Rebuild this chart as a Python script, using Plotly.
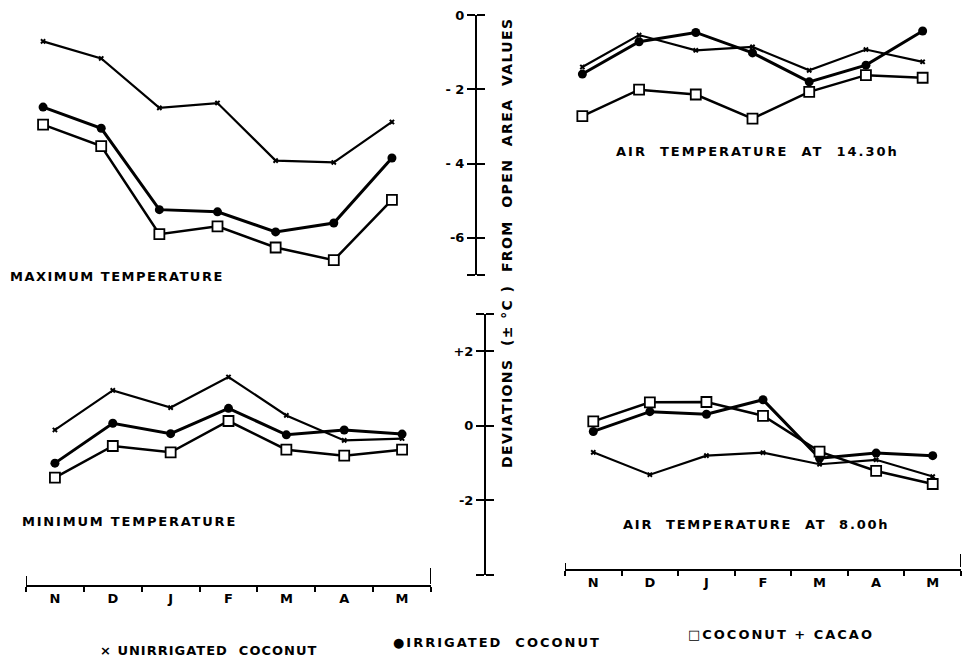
import plotly.graph_objects as go

# ---------------- data ----------------
months = ['N', 'D', 'J', 'F', 'M', 'A', 'M']
xi = list(range(len(months)))

max_unirr = [-0.71, -1.17, -2.50, -2.37, -3.92, -3.97, -2.88]
max_irr = [-2.48, -3.05, -5.24, -5.30, -5.84, -5.60, -3.85]
max_cacao = [-2.95, -3.53, -5.90, -5.69, -6.26, -6.60, -4.98]

a1430_unirr = [-1.40, -0.54, -0.95, -0.86, -1.49, -0.93, -1.26]
a1430_irr = [-1.59, -0.72, -0.47, -1.02, -1.80, -1.35, -0.43]
a1430_cacao = [-2.72, -2.01, -2.14, -2.79, -2.07, -1.62, -1.69]

min_unirr = [-0.11, 0.95, 0.49, 1.31, 0.28, -0.39, -0.34]
min_irr = [-1.00, 0.07, -0.21, 0.47, -0.24, -0.11, -0.22]
min_cacao = [-1.39, -0.54, -0.71, 0.13, -0.64, -0.80, -0.64]

a800_unirr = [-0.71, -1.31, -0.80, -0.72, -1.03, -0.91, -1.36]
a800_irr = [-0.15, 0.38, 0.31, 0.70, -0.87, -0.73, -0.80]
a800_cacao = [0.12, 0.63, 0.64, 0.27, -0.69, -1.21, -1.56]

top_ticks = [0, -2, -4, -6, -7]
top_ticktext = ['0', '- 2', '- 4', '-6', '']
bot_ticks = [3, 2, 0, -2, -4]
bot_ticktext = ['', '+2', '0', '-2', '']

series_names = ['UNIRRIGATED  COCONUT', 'IRRIGATED  COCONUT', 'COCONUT + CACAO']

# ---------------- layout helpers ----------------
W, H = 965, 666
def px(x):
    return x / W
def py(y):
    return 1 - y / H

FONT = 'DejaVu Sans'

def spaced(text, ls=2):
    return '<span style="letter-spacing:%spx">%s</span>' % (ls, text)

styles = [
    dict(mode='lines+markers', line=dict(color='black', width=2.2),
         marker=dict(symbol='x', size=5, color='black')),
    dict(mode='lines+markers', line=dict(color='black', width=3),
         marker=dict(symbol='circle', size=9, color='black')),
    dict(mode='lines+markers', line=dict(color='black', width=2.5),
         marker=dict(symbol='square', size=10, color='white',
                     line=dict(color='black', width=1.8))),
]

fig = go.Figure()

panels = [
    ('x', 'y', [max_unirr, max_irr, max_cacao]),
    ('x2', 'y', [a1430_unirr, a1430_irr, a1430_cacao]),
    ('x3', 'y2', [min_unirr, min_irr, min_cacao]),
    ('x4', 'y2', [a800_unirr, a800_irr, a800_cacao]),
]
for xa, ya, sets in panels:
    for k, vals in enumerate(sets):
        fig.add_trace(go.Scatter(x=xi, y=vals, xaxis=xa, yaxis=ya,
                                 name=series_names[k], showlegend=False,
                                 cliponaxis=False, **styles[k]))

# placeholder traces (no visible point) so that the overlay axes with the
# right-hand half of the cross ticks get drawn
fig.add_trace(go.Scatter(x=[xi[0]], y=[None], xaxis='x', yaxis='y3',
                         mode='markers', showlegend=False, hoverinfo='skip'))
fig.add_trace(go.Scatter(x=[xi[0]], y=[None], xaxis='x3', yaxis='y4',
                         mode='markers', showlegend=False, hoverinfo='skip'))

xr = [-0.5, len(months) - 0.5]
bounds = [i - 0.5 for i in range(len(months) + 1)]

hidden_x = dict(range=xr, visible=False, fixedrange=True, automargin=False)
shown_x = dict(range=xr, showline=True, linecolor='black', linewidth=2,
               showgrid=False, zeroline=False, anchor='free', automargin=False,
               tickmode='array', tickvals=xi, ticktext=months, ticks='',
               ticklen=0,
               tickfont=dict(family=FONT, size=13, color='black', weight='bold'),
               minor=dict(tickmode='array', tickvals=bounds, ticks='outside',
                          ticklen=5, tickwidth=2, tickcolor='black'))

yax_common = dict(showline=True, linecolor='black', linewidth=2, showgrid=False,
                  zeroline=False, ticks='outside', ticklen=8, tickwidth=2,
                  tickcolor='black', anchor='free', side='left', automargin=False,
                  tickfont=dict(family=FONT, size=13, color='black', weight='bold'))
yover_common = dict(anchor='free', side='right', showline=False, showgrid=False,
                    zeroline=False, tickmode='array', showticklabels=False,
                    ticks='outside', ticklen=8, tickwidth=2, tickcolor='black',
                    automargin=False)

top_dom = [py(275), py(15)]
bot_dom = [py(575), py(314)]
top_pos = px(476)
bot_pos = px(485)

fig.update_layout(
    width=W, height=H,
    margin=dict(l=0, r=0, t=0, b=0, autoexpand=False),
    paper_bgcolor='white', plot_bgcolor='white',
    showlegend=False,
    xaxis=dict(domain=[px(14), px(421)], anchor='y', **hidden_x),
    xaxis2=dict(domain=[px(554), px(951)], anchor='y', **hidden_x),
    xaxis3=dict(domain=[px(26), px(431)], position=py(586), **shown_x),
    xaxis4=dict(domain=[px(565), px(961)], position=py(570), **shown_x),
    yaxis=dict(domain=top_dom, range=[-7, 0], position=top_pos,
               tickmode='array', tickvals=top_ticks, ticktext=top_ticktext,
               **yax_common),
    yaxis2=dict(domain=bot_dom, range=[-4, 3], position=bot_pos,
                tickmode='array', tickvals=bot_ticks, ticktext=bot_ticktext,
                **yax_common),
    yaxis3=dict(overlaying='y', range=[-7, 0], position=top_pos,
                tickvals=top_ticks, **yover_common),
    yaxis4=dict(overlaying='y2', range=[-4, 3], position=bot_pos,
                tickvals=bot_ticks, **yover_common),
)

# end caps of the month axes
caps = [('x3', py(586), py(576), py(584), py(568)),
        ('x4', py(572), py(563), py(567), py(554))]
for xa, l0, l1, r0, r1 in caps:
    fig.add_shape(type='line', xref=xa, yref='paper', x0=xr[0], x1=xr[0],
                  y0=l0, y1=l1, line=dict(color='black', width=2))
    fig.add_shape(type='line', xref=xa, yref='paper', x0=xr[1], x1=xr[1],
                  y0=r0, y1=r1, line=dict(color='black', width=2))

def note(text, x, y, size=13, xanchor='left', angle=0, ls=2):
    fig.add_annotation(text=spaced(text, ls), x=x, y=y, xref='paper', yref='paper',
                       xanchor=xanchor, yanchor='middle', showarrow=False,
                       textangle=angle,
                       font=dict(family=FONT, size=size, color='black', weight='bold'))

note('MAXIMUM TEMPERATURE', px(8), py(276), ls=1.5)
note('MINIMUM TEMPERATURE', px(20), py(521), ls=1.8)
note('AIR  TEMPERATURE  AT  14.30h', px(757), py(151), xanchor='center', ls=2)
note('AIR  TEMPERATURE  AT  8.00h', px(756), py(524), xanchor='center', ls=1.8)
note('DEVIATIONS  (± °C )  FROM  OPEN  AREA  VALUES', px(507), py(242),
     xanchor='center', angle=-90, size=14, ls=1.4)

note('× ' + series_names[0], px(98), py(650), ls=1)
note('●' + series_names[1], px(391), py(642), ls=2)
note('□' + series_names[2], px(686), py(634), ls=2)

fig.write_html('out.html',
               config={'displayModeBar': False},
               post_script="document.body.style.margin='0';"
                           "document.body.style.overflow='hidden';")
